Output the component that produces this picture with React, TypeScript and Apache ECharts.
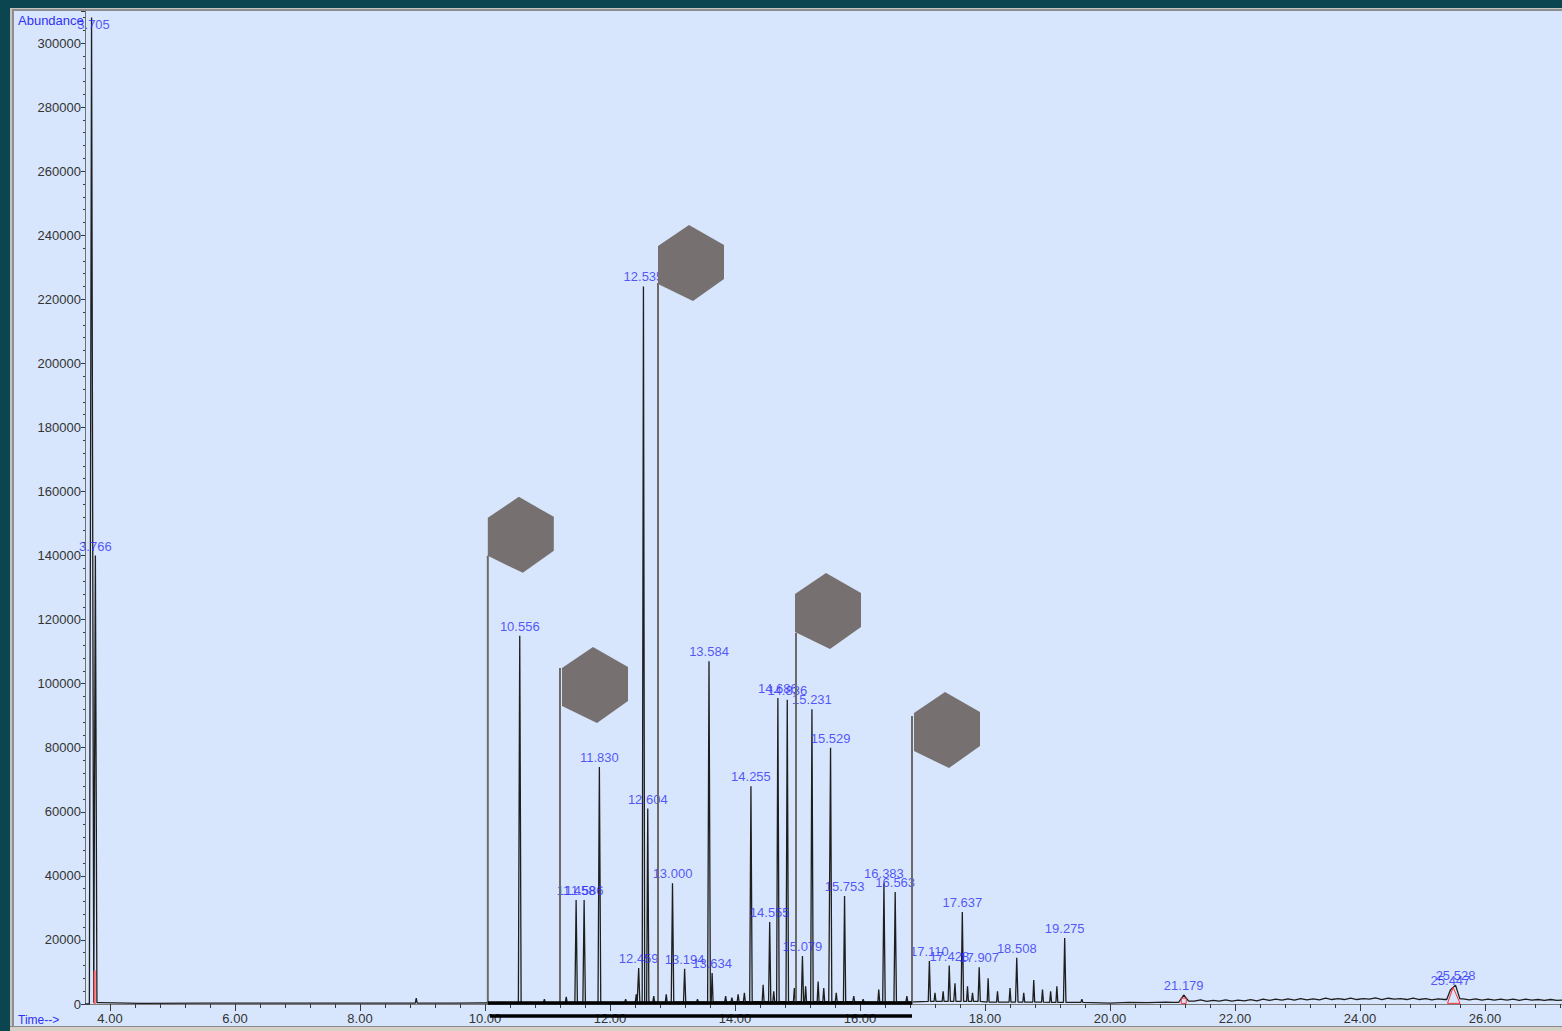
import React, { useEffect, useRef } from "react";
import * as echarts from "echarts";

// ---- labelled peaks (retention time in min, abundance) ----
const peakTimes = [3.705, 3.766, 10.556, 11.458, 11.586, 11.83, 12.459, 12.535, 12.604, 13.0, 13.194, 13.584, 13.634, 14.255, 14.555, 14.686, 14.836, 15.079, 15.231, 15.529, 15.753, 16.383, 16.563, 17.11, 17.428, 17.637, 17.907, 18.508, 19.275, 21.179, 25.447, 25.528];
const peakHeights = [308000, 140000, 115000, 32500, 32500, 74000, 11200, 224000, 61000, 37700, 11000, 107000, 9700, 68000, 25600, 95500, 95000, 15000, 92000, 80000, 33700, 37700, 35000, 13400, 12000, 28700, 11500, 14400, 20600, 2800, 4400, 5900];
const peakHalfWidths = [0.035, 0.025, 0.022, 0.02, 0.02, 0.022, 0.018, 0.02, 0.018, 0.02, 0.018, 0.022, 0.015, 0.02, 0.018, 0.02, 0.02, 0.018, 0.02, 0.02, 0.018, 0.02, 0.02, 0.018, 0.018, 0.02, 0.018, 0.02, 0.02, 0.08, 0.06, 0.07];

// ---- small unlabelled peaks ----
const minorTimes = [8.9, 10.95, 11.3, 12.25, 12.42, 12.7, 12.9, 13.4, 13.85, 13.95, 14.05, 14.15, 14.45, 14.62, 14.95, 15.13, 15.33, 15.42, 15.62, 15.9, 16.05, 16.3, 16.75, 17.2, 17.33, 17.52, 17.72, 17.8, 18.05, 18.2, 18.4, 18.62, 18.78, 18.92, 19.05, 19.15, 19.55];
const minorHeights = [1800, 1500, 2200, 1500, 3000, 2500, 3000, 1500, 2500, 2000, 3000, 3500, 6000, 4000, 5000, 5500, 7000, 5000, 3500, 2500, 1500, 4500, 2500, 3500, 4000, 6500, 5500, 3500, 8000, 4000, 5000, 3500, 7500, 4500, 4000, 5500, 1500];

// ---- baseline (with the noise) ----
const baseTimes = [3.6, 3.85, 4.5, 5.5, 6.5, 7.5, 8.5, 9.5, 10.5, 11.5, 12.5, 13.5, 14.5, 15.5, 16.5, 17.5, 18.5, 19.5, 20.0, 20.3, 20.6, 20.9, 21.0,
  21.35, 21.45, 21.55, 21.65, 21.75, 21.85, 21.95, 22.05, 22.15, 22.25, 22.35, 22.45, 22.55, 22.65, 22.75, 22.85, 22.95, 23.05, 23.15, 23.25, 23.35, 23.45, 23.55, 23.65, 23.75, 23.85, 23.95,
  24.05, 24.15, 24.25, 24.35, 24.45, 24.55, 24.65, 24.75, 24.85, 24.95, 25.05, 25.15, 25.25, 25.35, 25.65, 25.75, 25.85, 25.95, 26.05, 26.15, 26.25, 26.35, 26.45, 26.55, 26.65, 26.75, 26.85, 26.95, 27.05, 27.15, 27.3];
const baseValues = [0, 400, 200, 250, 300, 250, 300, 300, 400, 500, 500, 600, 700, 700, 600, 800, 600, 500, 300, 500, 400, 600, 500,
  900, 1300, 800, 1100, 900, 1300, 900, 1200, 1000, 1400, 1000, 1500, 1100, 1500, 1200, 1600, 1200, 1700, 1300, 1600, 1300, 1800, 1400, 1700, 1400, 1800, 1400,
  1700, 1500, 1900, 1400, 1800, 1500, 1700, 1400, 1800, 1400, 1700, 1300, 1600, 1400, 1600, 1300, 1600, 1200, 1500, 1200, 1500, 1200, 1500, 1100, 1500, 1200, 1400, 1100, 1400, 1100, 1300];

// ---- hexagon flags ----
const flagTimes = [10.045, 11.2, 12.768, 14.976, 16.832];
const flagTops = [139900, 104900, 225100, 115800, 89900];
const hexOffsetX = [0, 2, 0, -1, 2];
const hexOffsetY = [-38, 0, -37, -39, -3];
const hexShape = [[0, 0], [31, -21], [66, -1], [66, 33], [35, 55], [0, 38]];

// ---- axis ticks ----
const xTickMin = 4;
const xTickStep = 2;

const BLUE = "#3030f6";
const FONT = "Liberation Sans";

function nearestBase(t: number): number {
  let best = 0;
  let bd = Infinity;
  baseTimes.forEach((bt, i) => {
    const d = Math.abs(bt - t);
    if (d < bd) { bd = d; best = i; }
  });
  return baseValues[best];
}

function buildSignal(): number[][] {
  const peaks: { t: number; h: number; w: number }[] = [];
  peakTimes.forEach((t, i) => peaks.push({ t, h: peakHeights[i], w: peakHalfWidths[i] }));
  minorTimes.forEach((t, i) => peaks.push({ t, h: minorHeights[i], w: 0.015 }));
  const inside = (x: number, skip: number) =>
    peaks.some((p, j) => j !== skip && x > p.t - p.w && x < p.t + p.w);
  const pts: number[][] = [];
  baseTimes.forEach((t, i) => { if (!inside(t, -1)) pts.push([t, baseValues[i]]); });
  peaks.forEach((p, j) => {
    const l = p.t - p.w, r = p.t + p.w;
    if (!inside(l, j)) pts.push([l, nearestBase(l)]);
    pts.push([p.t, p.h]);
    if (!inside(r, j)) pts.push([r, nearestBase(r)]);
  });
  pts.sort((a, b) => a[0] - b[0]);
  return pts;
}

export default function App() {
  const ref = useRef<HTMLDivElement>(null);
  useEffect(() => {
    if (!ref.current) return;
    const chart = echarts.init(ref.current, null, { renderer: "svg" });
    const signal = buildSignal();
    const labelData = peakTimes.map((t, i) => {
      const item: any = { name: t.toFixed(3), value: [t, peakHeights[i]] };
      if (i === 0) item.label = { offset: [2, 17] };
      return item;
    });
    const option: any = {
      animation: false,
      backgroundColor: "transparent",
      grid: [
        { left: 85, right: 0, top: 11, bottom: 27 },
        { left: 110, right: 0, top: 11, bottom: 27 },
      ],
      xAxis: [
        {
          gridIndex: 0, type: "value", min: 3.6, max: 27.232,
          axisLine: { show: true, lineStyle: { color: "#7a7a7a", width: 1 } },
          axisTick: { show: false }, axisLabel: { show: false }, splitLine: { show: false },
        },
        {
          gridIndex: 1, type: "value", min: xTickMin, max: 27.232, interval: xTickStep,
          axisLine: { show: false },
          axisTick: { show: true, length: 7, lineStyle: { color: "#3a3a3a" } },
          minorTick: { show: true, splitNumber: 5, length: 4, lineStyle: { color: "#3a3a3a" } },
          axisLabel: {
            show: true, showMaxLabel: false, margin: 8, color: "#333", fontSize: 13, fontFamily: FONT,
            formatter: (v: number) => v.toFixed(2),
          },
          splitLine: { show: false }, minorSplitLine: { show: false },
        },
      ],
      yAxis: [
        {
          gridIndex: 0, type: "value", min: 0, max: 310000, interval: 20000,
          axisLine: { show: true, lineStyle: { color: "#707070" } },
          axisTick: { show: true, length: 4, lineStyle: { color: "#3a3a3a" } },
          minorTick: { show: true, splitNumber: 5, length: 2, lineStyle: { color: "#3a3a3a" } },
          axisLabel: {
            show: true, showMaxLabel: false, margin: 4, color: "#333", fontSize: 13, fontFamily: FONT,
            formatter: (v: number) => String(v),
          },
          splitLine: { show: false },
        },
        { gridIndex: 1, type: "value", min: 0, max: 310000, show: false },
      ],
      series: [
        {
          type: "line", xAxisIndex: 0, yAxisIndex: 0, data: signal, showSymbol: false,
          lineStyle: { color: "#1e1e1e", width: 1.3 }, z: 3,
        },
        {
          type: "line", xAxisIndex: 0, yAxisIndex: 0, showSymbol: false,
          data: [[3.755, 0], [3.755, 10500]], lineStyle: { color: "#ff6060", width: 2 }, z: 4,
        },
        {
          type: "line", xAxisIndex: 0, yAxisIndex: 0, showSymbol: false,
          data: [[25.4, 200], [25.49, 5200], [25.6, 200], [25.4, 200]], lineStyle: { color: "#ff3030", width: 1 }, z: 4,
        },
        {
          type: "line", xAxisIndex: 0, yAxisIndex: 0, showSymbol: false,
          data: [[21.14, 200], [21.14, 1800], [21.22, 1800], [21.22, 200], [21.14, 200]], lineStyle: { color: "#ff3030", width: 1 }, z: 4,
        },
        {
          type: "scatter", xAxisIndex: 0, yAxisIndex: 0, symbolSize: 0, data: labelData, z: 5,
          label: {
            show: true, position: "top", distance: 3, formatter: (p: any) => p.name,
            color: BLUE, fontSize: 13, fontFamily: FONT,
          },
        },
      ],
    };
    chart.setOption(option);

    const zeroY = chart.convertToPixel({ gridIndex: 0 }, [flagTimes[0], 0])[1];
    const elements: any[] = [
      { type: "text", left: 18, top: 14, z: 50, style: { text: "Abundance", fill: BLUE, fontSize: 13, fontFamily: FONT } },
      { type: "text", left: 18, top: 1014, z: 50, style: { text: "Time-->", fill: BLUE, fontSize: 12, fontFamily: FONT } },
    ];
    const poleX: number[] = [];
    flagTimes.forEach((t, i) => {
      const [px, py] = chart.convertToPixel({ gridIndex: 0 }, [t, flagTops[i]]);
      poleX.push(px);
      elements.push({
        type: "line", z: 100,
        shape: { x1: px, y1: py, x2: px, y2: zeroY },
        style: { stroke: "#6e6a68", lineWidth: 2 },
      });
      const ux = px + hexOffsetX[i];
      const uy = py + hexOffsetY[i];
      elements.push({
        type: "polygon", z: 101,
        shape: { points: hexShape.map(([a, b]) => [ux + a, uy + b]) },
        style: { fill: "#767170" },
      });
    });
    elements.push({
      type: "line", z: 102,
      shape: { x1: poleX[0], y1: zeroY - 1, x2: poleX[4], y2: zeroY - 1 },
      style: { stroke: "#000", lineWidth: 3.5 },
    });
    elements.push({
      type: "line", z: 102,
      shape: { x1: poleX[0] + 2, y1: zeroY + 12, x2: poleX[4], y2: zeroY + 12 },
      style: { stroke: "#000", lineWidth: 3.5 },
    });
    chart.setOption({ graphic: { elements } });
    return () => chart.dispose();
  }, []);

  return (
    <div style={{ position: "fixed", left: 0, top: 0, width: 1562, height: 1031, background: "#0b4650", overflow: "hidden" }}>
      <div style={{ position: "absolute", left: 10, top: 8, right: 0, bottom: 0, background: "#c4c4c4" }}>
        <div style={{ position: "absolute", left: 2, top: 1, right: 0, bottom: 0, background: "#8e8e8e" }}>
          <div style={{ position: "absolute", left: 2, top: 2, right: 0, bottom: 0, background: "#d7e6fc" }} />
        </div>
      </div>
      <div ref={ref} style={{ position: "absolute", left: 0, top: 0, width: 1562, height: 1031 }} />
      <div style={{ position: "absolute", left: 10, top: 1026, right: 0, height: 5, background: "#d4d0c8", borderTop: "1px solid #8a8a8a" }} />
    </div>
  );
}
